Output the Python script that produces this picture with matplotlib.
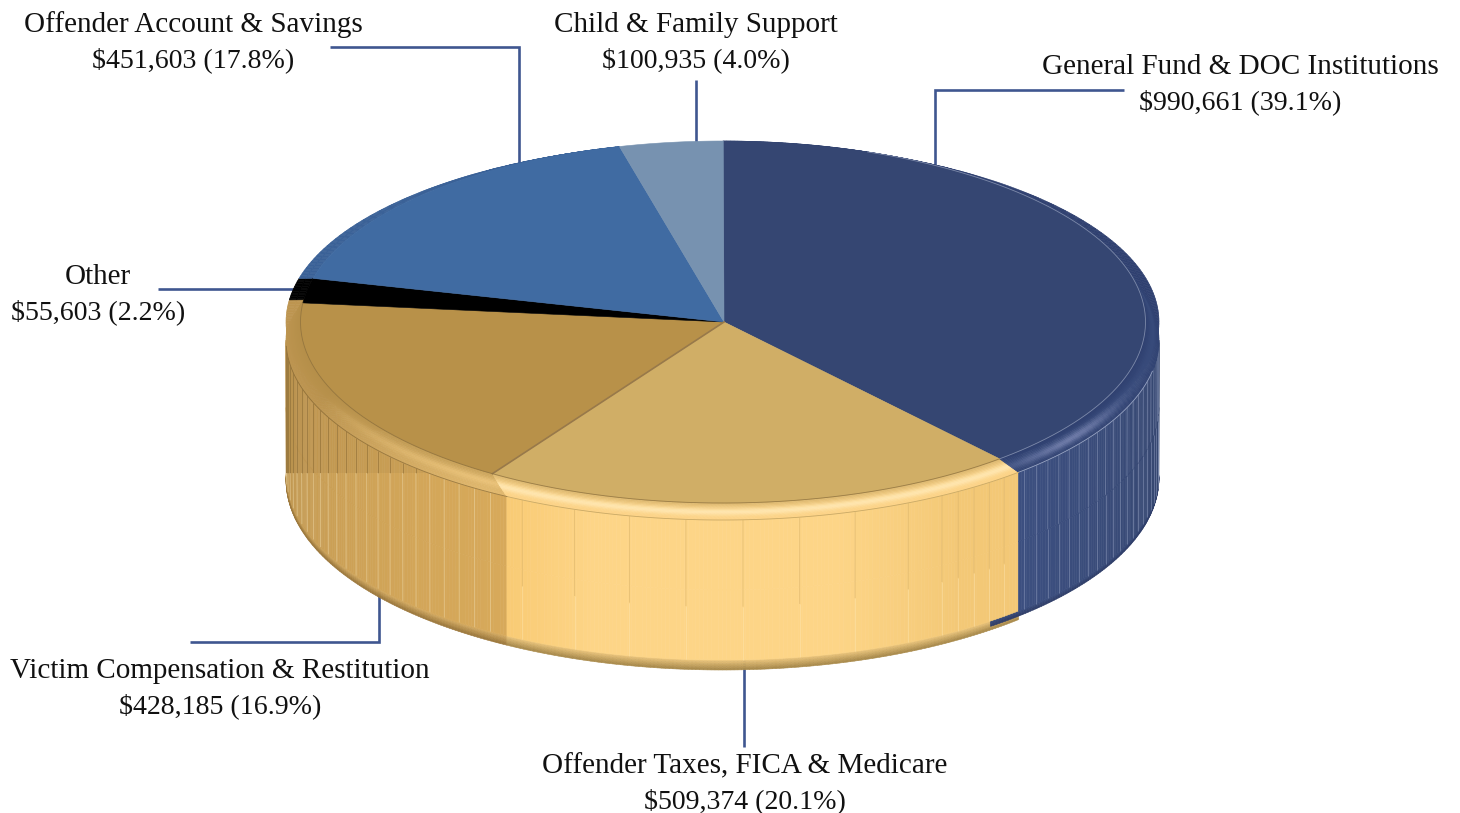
import numpy as np
import matplotlib
matplotlib.use('Agg')
import matplotlib.pyplot as plt
from matplotlib.collections import PolyCollection, LineCollection
from matplotlib.colors import to_rgb
from matplotlib.patches import Polygon, Rectangle

plt.rcParams['font.family'] = ['Liberation Serif', 'DejaVu Serif']

categories = ['General Fund & DOC Institutions', 'Offender Taxes, FICA & Medicare',
              'Victim Compensation & Restitution', 'Other',
              'Offender Account & Savings', 'Child & Family Support']
amounts = [990661, 509374, 428185, 55603, 451603, 100935]
percents = ['39.1', '20.1', '16.9', '2.2', '17.8', '4.0']

face_colors = ['#354672', '#d0ae66', '#b89149', '#000000', '#406ba2', '#7792b0']
connector_color = '#3f5690'

# ellipses as (cx, cy, rx, ry): top face, outline of the shoulder, top of wall,
# bottom of wall, outline of base
FACE = (723, 322, 422.5, 181)
SHOULDER = (722.5, 322, 436.5, 180)
WALL_TOP = (722.5, 340, 436.5, 180)
WALL_BOT = (722.5, 475, 436.3, 185)
BASE = (722.5, 480, 436.5, 190)
BASE_NAVY = (722.5, 478, 436.5, 188)


def mix(a, b, t):
    a, b = np.array(to_rgb(a)), np.array(to_rgb(b))
    return tuple(a + (b - a) * np.clip(t, 0, 1))


def point(ring, theta):
    th = np.radians(theta)
    return ring[0] + ring[2] * np.sin(th), ring[1] - ring[3] * np.cos(th)


def lerp_ring(a, b, t):
    return tuple(a[i] + (b[i] - a[i]) * t for i in range(4))


def band(ax, ring_a, ring_b, a0, a1, b0, b1, color_fn, nt=14, zorder=2):
    # strip between two ellipses, a0..a1 on the first one and b0..b1 on the second
    n = max(int(abs(a1 - a0) * 2), 2)
    polys, colors = [], []
    for j in range(nt):
        t0, t1 = j / nt, (j + 1) / nt
        r0, r1 = lerp_ring(ring_a, ring_b, t0), lerp_ring(ring_a, ring_b, t1)
        for i in range(n):
            s0, s1 = i / n, (i + 1) / n
            a_s0, a_s1 = a0 + (a1 - a0) * s0, a0 + (a1 - a0) * s1
            b_s0, b_s1 = b0 + (b1 - b0) * s0, b0 + (b1 - b0) * s1
            th00 = a_s0 + (b_s0 - a_s0) * t0
            th01 = a_s1 + (b_s1 - a_s1) * t0
            th10 = a_s0 + (b_s0 - a_s0) * t1
            th11 = a_s1 + (b_s1 - a_s1) * t1
            polys.append([point(r0, th00), point(r0, th01), point(r1, th11), point(r1, th10)])
            colors.append(color_fn((th00 + th11) / 2, (t0 + t1) / 2))
    ax.add_collection(PolyCollection(polys, facecolors=colors, edgecolors=colors,
                                     linewidths=0.4, zorder=zorder))


def bump(t, mid=0.5, width=0.22):
    return np.exp(-((t - mid) / width) ** 2)


def flat(color):
    return lambda theta, t: to_rgb(color)


# slice boundaries in degrees, clockwise from the top
total = sum(amounts)
edges = [0.0]
for v in amounts:
    edges.append(edges[-1] + v / total * 360)


def foreshorten(theta):
    # the drawn disc is slightly off axis, so angles on the face drift a little
    return theta + 2.4 * np.exp(-((theta - 278) / 40) ** 2) - 1.5 * np.exp(-((theta - 140) / 30) ** 2)


face_edges = [foreshorten(e) for e in edges]
TWIST = -3.3
wall_edges = [e + TWIST for e in edges]
left_end = face_edges[3] + 1.0

fig = plt.figure(figsize=(14.6, 8.13), dpi=100)
ax = fig.add_axes([0, 0, 1, 1])
ax.set_xlim(0, 1460)
ax.set_ylim(813, 0)
ax.axis('off')

# leader lines, they run underneath the pie
leaders = [
    ([696, 696], [80, 150]),
    ([1124, 935, 935], [90, 90, 172]),
    ([330, 519, 519], [47, 47, 170]),
    ([158, 300], [289, 289]),
    ([190, 379, 379], [642, 642, 590]),
    ([744, 744], [660, 747]),
]
for xs, ys in leaders:
    ax.plot(xs, ys, color=connector_color, lw=1.9, solid_joinstyle='miter',
            solid_capstyle='butt', zorder=1)


# colour of the walls along the angle
def gold_wall(theta, t):
    s = (theta - wall_edges[2]) / (270 - wall_edges[2])
    return mix('#d7a95a', '#bd9550', s ** 1.3)


def yellow_wall(theta, t):
    if theta > 197:
        return mix('#fdd587', '#f9cb75', (theta - 197) / 12)
    if theta < 165:
        return mix('#fdd587', '#f3c876', (165 - theta) / 18)
    return to_rgb('#fdd587')


def navy_wall(theta, t):
    return mix('#3c4f80', '#35466f', (137 - theta) / 47)


# base rim below the wall
def gold_rim(theta, t):
    return mix('#d9b066', '#99753a', t)


def yellow_rim(theta, t):
    return mix('#efc97e', '#a58648', t)


def navy_rim(theta, t):
    return mix('#3c4f80', '#2d3c66', t)


band(ax, WALL_BOT, BASE, wall_edges[3], wall_edges[2], wall_edges[3], wall_edges[2], gold_rim, nt=6)
band(ax, WALL_BOT, BASE, wall_edges[2], wall_edges[1], wall_edges[2], wall_edges[1], yellow_rim, nt=6)
band(ax, WALL_BOT, BASE_NAVY, edges[1] + 1.5, 90, edges[1] + 1.5, 90, navy_rim, nt=4, zorder=2.1)

band(ax, WALL_TOP, WALL_BOT, 270, wall_edges[2], 270, wall_edges[2], gold_wall, nt=2, zorder=3)
band(ax, WALL_TOP, WALL_BOT, wall_edges[2], wall_edges[1], wall_edges[2], wall_edges[1], yellow_wall, nt=2, zorder=3)
band(ax, WALL_TOP, WALL_BOT, wall_edges[1], 90, wall_edges[1], 90, navy_wall, nt=2, zorder=3)

# the left part of the gold wall is a little darker above a level line
gold_outline = [point(WALL_TOP, a) for a in np.arange(270, wall_edges[2], -1)]
gold_outline += [point(WALL_BOT, a) for a in np.arange(wall_edges[2], 270, 1)]
gold_clip = Polygon(gold_outline, transform=ax.transData)
shade = Rectangle((280, 300), 230, 173, color='black', alpha=0.04, lw=0, zorder=3.1)
ax.add_patch(shade)
shade.set_clip_path(gold_clip)


# vertical facet lines on the wall
def facet_lines(a0, a1, split, step=2.5):
    upper, lower = [], []
    for i, a in enumerate(np.arange(a0 + step, a1, step)):
        if 150 < a < 205 and i % 3 != 0:
            continue
        top = point(WALL_TOP, a)
        bot = point(WALL_BOT, a)
        mid = (bot[0], top[1] + (bot[1] - top[1]) * split)
        upper.append([top, mid])
        lower.append([mid, bot])
    return upper, lower


split_y = 473
gold_up = []
gold_low = []
for a in np.arange(wall_edges[2] + 2.5, 270, 2.5):
    top = point(WALL_TOP, a)
    bot = point(WALL_BOT, a)
    if top[1] < split_y:
        gold_up.append([top, (top[0], split_y)])
        gold_low.append([(top[0], split_y), bot])
    else:
        gold_low.append([top, bot])
ax.add_collection(LineCollection(gold_up, colors='#7f6230', linewidths=0.6, alpha=0.55, zorder=3.2))
ax.add_collection(LineCollection(gold_low, colors='#ecd6a4', linewidths=0.6, alpha=0.6, zorder=3.2))

up, low = facet_lines(wall_edges[1], wall_edges[2], 0.62)
ax.add_collection(LineCollection(up, colors='#dcb56c', linewidths=0.6, alpha=0.7, zorder=3.2))
ax.add_collection(LineCollection(low, colors='#ffe9b8', linewidths=0.6, alpha=0.45, zorder=3.2))

up, low = facet_lines(90, wall_edges[1], 0.5, step=2.2)
ax.add_collection(LineCollection(up + low, colors='#8b98ba', linewidths=0.6, alpha=0.6, zorder=3.2))


# shoulder seen behind the top face, all round the disc
band(ax, FACE, SHOULDER, 0, face_edges[1], 0, wall_edges[1], flat('#2f4070'), nt=2, zorder=3.5)
band(ax, FACE, SHOULDER, face_edges[2] + 20, left_end, face_edges[2] + 20, left_end, flat('#bd9550'), nt=2, zorder=3.5)
band(ax, FACE, SHOULDER, left_end, face_edges[4], left_end, face_edges[4], flat('#000000'), nt=2, zorder=3.5)
band(ax, FACE, SHOULDER, face_edges[4], face_edges[5], face_edges[4], face_edges[5], flat('#3a6197'), nt=2, zorder=3.5)


# rounded shoulder between the top face and the wall
def gold_bevel(theta, t):
    near = np.clip((theta - edges[2]) / 35, 0, 1)
    base = mix('#e2b96e', '#bd9550', near)
    return mix(mix(base, '#a8853f', (1 - t) * 0.4), '#ecc47a', bump(t) * (1 - near) * 0.9)


def yellow_bevel(theta, t):
    base = mix('#d9b56c', '#fcd386', t * 2.2)
    return mix(base, '#ffe5ad', bump(t, 0.55, 0.2))


def navy_bevel(theta, t):
    glow = np.exp(-((theta - 126) / 11) ** 2)
    base = mix('#2f4070', '#384b7b', bump(t, 0.55, 0.35))
    return mix(base, '#6b78a6', bump(t, 0.6, 0.2) * glow)


band(ax, FACE, WALL_TOP, left_end, face_edges[2], left_end - 3, wall_edges[2], gold_bevel, zorder=4)
band(ax, FACE, WALL_TOP, face_edges[2], face_edges[1], wall_edges[2], wall_edges[1], yellow_bevel, zorder=4)
band(ax, FACE, WALL_TOP, face_edges[1], 30, wall_edges[1], 30, navy_bevel, zorder=4)

# seam where the wall meets the shoulder
seam = [point(WALL_TOP, a) for a in np.linspace(wall_edges[1], 100, 80)]
ax.plot(*zip(*seam), color='#9aa6c4', lw=0.6, zorder=4.1)
seam = [point(WALL_TOP, a) for a in np.linspace(wall_edges[2], wall_edges[1], 80)]
ax.plot(*zip(*seam), color='#c9a965', lw=0.6, zorder=4.1)
seam = [point(WALL_TOP, a) for a in np.linspace(268, wall_edges[2], 80)]
ax.plot(*zip(*seam), color='#7f6230', lw=0.6, alpha=0.7, zorder=4.1)

# top face slices
apex = (724, 322)
for i in range(len(amounts)):
    arc = [point(FACE, a) for a in np.linspace(face_edges[i], face_edges[i + 1], 200)]
    ax.add_patch(Polygon([apex] + arc, closed=True, facecolor=face_colors[i],
                         edgecolor=face_colors[i], lw=0.4, zorder=5))

cut = point(FACE, face_edges[2])
ax.plot([apex[0], cut[0]], [apex[1], cut[1]], color='#98794a', lw=1.2, zorder=5.1)
rim_line = [point(FACE, a) for a in np.linspace(20, face_edges[1], 150)]
ax.plot(*zip(*rim_line), color='#8f9bb8', lw=0.6, alpha=0.8, zorder=5.1)
rim_line = [point(FACE, a) for a in np.linspace(face_edges[1], face_edges[3], 150)]
ax.plot(*zip(*rim_line), color='#8c6f3c', lw=0.6, alpha=0.8, zorder=5.1)

# labels
label_pos = [(1240, 67), (745, 766), (220, 671), (98, 277), (193, 25), (696, 25)]
for name, amount, pct, (x, y) in zip(categories, amounts, percents, label_pos):
    ax.text(x, y, name, ha='center', va='center', fontsize=21.0, color='#111111', zorder=6)
    ax.text(x, y + 35.5, f'${amount:,} ({pct}%)', ha='center', va='center',
            fontsize=20.1, color='#111111', zorder=6)

fig.savefig('out.png', dpi=100)
